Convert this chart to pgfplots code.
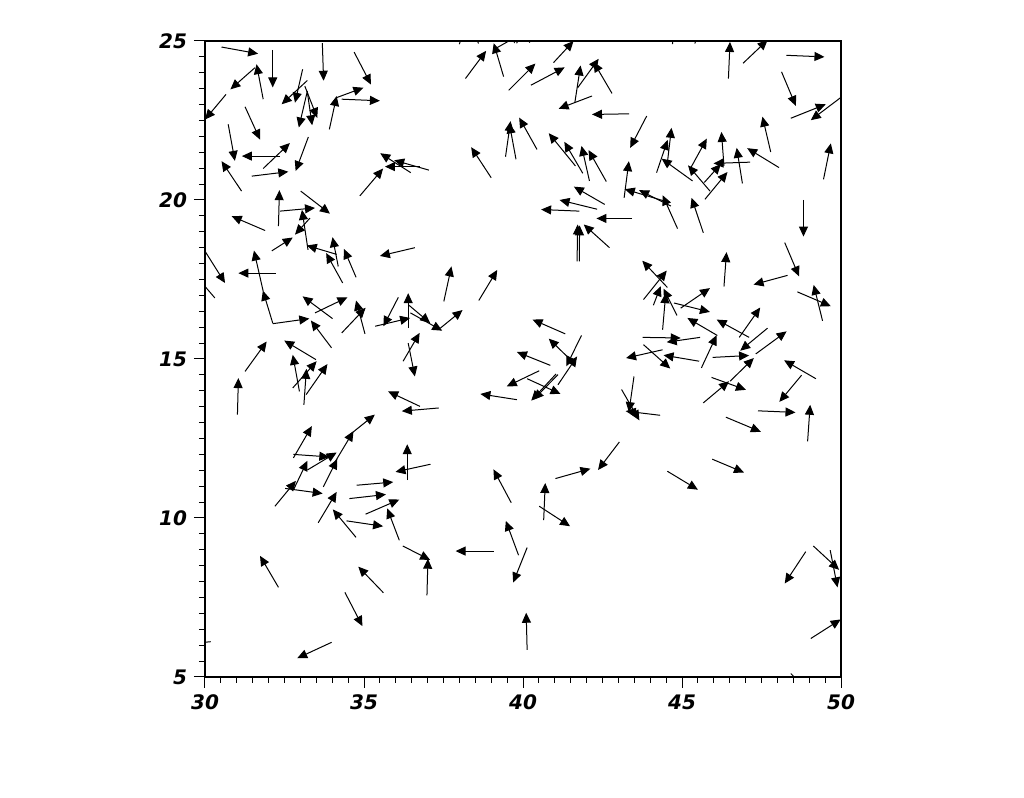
\documentclass[border=0pt]{standalone}
\usepackage{fontspec}
\usepackage{pgfplots}
\pgfplotsset{compat=1.18}
\usetikzlibrary{arrows.meta}
\newfontfamily\tickfont{DejaVu Sans}

\begin{document}
\begin{tikzpicture}
\begin{axis}[
    at={(0,0)}, anchor=south west,
    width=318pt, height=318pt, scale only axis,
    xmin=30, xmax=50, ymin=5, ymax=25,
    xtick={30,35,...,50}, ytick={5,10,...,25},
    minor tick num=9,
    tick align=outside,
    xtick pos=bottom, ytick pos=left,
    major tick length=5.5pt, minor tick length=3pt,
    tick style={black, line width=0.5pt},
    axis line style={line width=0.6pt},
    ticklabel style={font=\tickfont\fontsize{10}{12}\selectfont\bfseries\itshape},
    /pgf/number format/assume math mode=true,
]
\addplot[black, line width=0.5pt, -{Triangle[length=5pt,width=4.5pt]},
    quiver={u=\thisrow{u}, v=\thisrow{v}}] table {
x y u v
30.52 24.81 1.15 -0.21
32.13 24.72 0.00 -1.18
33.69 24.93 0.04 -1.18
34.69 24.65 0.53 -1.02
31.83 23.17 -0.21 1.10
30.66 23.32 -0.66 -0.79
31.57 24.16 -0.77 -0.68
33.07 24.11 -0.24 -1.05
33.22 23.76 -0.81 -0.75
33.22 23.43 -0.27 -1.15
33.22 23.38 0.15 -1.03
33.14 23.58 0.39 -1.00
33.91 22.22 0.23 1.05
34.14 23.22 0.84 0.31
34.30 23.17 1.20 -0.05
30.73 22.38 0.21 -1.15
31.26 22.93 0.47 -1.03
32.36 21.38 -1.20 0.00
31.83 20.99 0.84 0.80
33.25 21.98 -0.40 -1.07
31.47 20.75 1.15 0.14
31.15 20.28 -0.63 0.94
36.47 20.86 -0.96 0.61
36.76 21.05 -1.10 0.00
37.04 20.94 -1.09 0.31
34.87 20.13 0.73 0.86
32.31 19.18 0.03 1.13
32.36 19.65 1.10 0.10
33.01 20.28 0.92 -0.71
31.89 19.04 -1.05 0.45
33.30 19.43 -0.47 -0.52
32.10 18.40 0.66 0.42
33.24 18.43 -0.19 1.26
34.14 18.29 -0.94 0.28
36.60 18.50 -1.10 -0.26
30.00 18.39 0.63 -1.00
30.31 16.92 -0.60 0.70
32.23 17.70 -1.18 0.00
31.83 17.13 -0.29 1.28
32.13 16.13 -0.31 1.02
32.13 16.11 1.15 0.16
33.98 15.35 -0.65 0.86
34.01 16.27 -0.94 0.70
33.46 16.45 1.02 0.49
35.03 15.79 -0.28 1.05
34.30 15.82 0.75 0.79
31.26 14.61 0.68 0.94
31.02 13.25 0.03 1.15
33.49 14.98 -1.00 0.60
32.97 13.98 -0.21 1.15
32.76 14.09 0.75 0.84
33.11 13.56 0.08 1.13
33.18 13.88 0.67 0.96
34.33 17.39 -0.52 0.94
34.75 17.57 -0.38 0.89
34.19 17.91 -0.18 0.92
36.08 16.94 -0.47 -0.91
36.39 15.97 0.00 1.10
35.35 16.03 1.10 0.26
36.39 15.50 0.21 -1.05
36.23 14.93 0.52 0.89
36.76 13.51 -1.00 0.47
37.35 13.46 -1.16 -0.10
34.43 12.52 0.91 0.73
34.04 11.68 0.63 1.05
32.78 11.89 0.58 1.00
32.78 12.00 1.13 -0.08
36.36 11.19 0.00 1.13
32.20 10.37 0.66 0.80
32.78 10.88 0.44 0.92
32.52 10.93 1.18 -0.16
33.72 10.98 0.44 0.87
33.22 11.51 0.92 0.55
33.56 9.85 0.58 0.97
34.75 9.39 -0.73 0.88
34.45 9.91 1.15 -0.17
34.77 11.03 1.15 0.10
34.54 10.61 1.15 0.13
35.05 10.12 1.06 0.46
36.11 9.30 -0.38 1.00
37.09 11.69 -1.10 -0.24
36.22 9.12 0.86 -0.44
32.31 7.82 -0.58 0.99
35.61 7.65 -0.79 0.82
34.40 7.66 0.55 -1.06
33.98 6.09 -1.08 -0.50
30.18 6.11 -1.00 -0.10
36.98 7.57 0.03 1.15
39.08 8.96 -1.20 0.00
39.63 10.48 -0.56 1.05
39.86 8.83 -0.40 1.08
40.13 9.07 -0.44 -1.10
40.65 9.93 0.05 1.17
40.51 10.37 0.97 -0.63
41.02 11.24 1.10 0.31
43.03 12.39 -0.67 -0.88
40.13 5.85 -0.03 1.17
44.54 11.47 0.96 -0.58
45.95 11.85 1.00 -0.42
48.89 8.94 -0.66 -1.00
49.13 9.12 0.81 -0.75
49.66 8.99 0.23 -1.17
49.05 6.21 0.94 0.60
48.42 5.11 0.60 -0.60
38.19 23.82 0.65 0.87
39.39 23.88 -0.31 1.05
39.13 24.76 0.80 0.45
40.96 24.32 0.63 0.68
39.55 23.45 0.84 0.84
40.25 23.61 1.06 0.56
41.63 23.06 0.18 1.17
41.72 23.53 0.66 0.91
42.80 23.35 -0.58 0.99
42.17 23.27 -1.05 -0.40
43.34 22.71 -1.17 -0.02
39.00 20.70 -0.63 0.96
39.45 21.36 0.16 1.12
39.78 21.28 -0.21 1.13
40.44 21.59 -0.56 1.00
41.65 21.07 -0.84 1.03
41.88 20.84 -0.58 0.99
42.09 20.60 -0.25 1.10
42.62 20.58 -0.56 0.99
42.57 19.86 -0.97 0.56
42.33 19.71 -1.18 0.29
41.77 19.65 -1.20 0.05
43.43 19.42 -1.12 0.00
41.70 18.07 0.02 1.16
41.77 18.07 0.01 1.13
42.72 18.50 -0.81 0.73
38.00 24.90 0.30 1.10
38.60 24.92 -0.40 1.10
39.80 24.93 0.50 1.00
40.20 24.95 0.60 1.00
44.70 24.90 0.10 1.10
45.40 24.92 0.50 1.10
46.46 23.82 0.05 1.15
46.92 24.30 0.77 0.73
48.28 24.55 1.20 -0.05
48.13 24.03 0.45 -1.07
48.42 22.57 1.10 0.44
49.99 23.22 -0.94 -0.71
43.89 22.64 -0.52 -1.00
47.79 21.51 -0.26 1.11
49.45 20.65 0.23 1.13
44.54 21.17 0.13 1.10
44.20 20.86 0.35 1.03
45.33 20.60 -0.97 0.70
45.28 21.02 0.50 0.91
45.88 20.28 -0.69 0.81
45.72 20.02 0.71 0.86
45.70 20.55 0.52 0.58
47.14 21.19 -1.15 -0.04
46.32 21.07 -0.08 1.07
46.90 20.52 -0.18 1.12
48.05 21.02 -1.00 0.61
48.82 20.00 0.00 -1.15
45.67 18.97 -0.37 1.10
44.86 19.10 -0.47 1.05
44.65 19.81 -1.00 0.50
44.44 19.97 -1.24 0.37
43.18 20.07 0.15 1.15
48.23 18.66 0.45 -1.06
46.32 17.28 0.08 1.08
48.32 17.63 -1.07 -0.29
44.54 17.25 -0.79 0.84
43.79 16.87 0.73 0.91
44.10 16.69 0.23 0.60
44.39 15.92 0.10 1.15
44.84 16.37 -0.42 0.84
44.96 16.60 0.92 0.63
44.75 16.76 1.13 -0.28
46.11 15.74 -0.94 0.55
47.11 15.68 -1.02 0.56
46.80 15.68 0.66 0.94
45.57 15.68 -1.05 -0.15
43.76 15.68 1.20 -0.02
45.61 14.72 0.48 1.03
47.69 15.97 -0.86 -0.71
47.32 15.16 0.97 0.71
45.96 15.05 1.15 0.06
45.67 13.62 0.81 0.68
46.51 14.30 0.75 0.73
45.93 14.42 1.08 -0.39
44.39 15.29 -1.15 -0.26
43.79 15.45 0.84 -0.75
45.54 14.93 -1.12 0.19
49.21 14.38 -1.00 0.58
48.76 14.49 -0.70 -0.84
47.39 13.37 1.18 -0.05
48.95 12.41 0.08 1.15
46.38 13.17 1.10 -0.46
48.63 17.11 1.05 -0.45
49.42 16.20 -0.28 1.13
43.49 14.45 -0.16 -1.12
44.31 13.23 -1.08 0.13
43.10 14.04 0.56 -0.97
37.51 16.81 0.24 1.10
38.61 16.84 0.58 0.96
36.39 16.71 0.69 -0.58
36.46 16.45 1.00 -0.56
37.40 15.97 0.70 0.57
41.33 15.79 -1.03 0.45
41.84 15.74 -0.48 -0.97
41.52 14.95 -0.71 0.69
40.86 14.80 -1.05 0.42
40.51 14.63 -1.02 -0.49
40.13 14.38 1.05 -0.48
41.04 14.53 -0.78 -0.84
41.10 14.51 -0.77 -0.79
41.10 14.19 0.60 0.89
39.81 13.72 -1.15 0.18
};
\end{axis}
\pgfresetboundingbox
\path[use as bounding box] (-102.5pt,-60.5pt) rectangle (409.5pt,338.5pt);
\end{tikzpicture}
\end{document}
